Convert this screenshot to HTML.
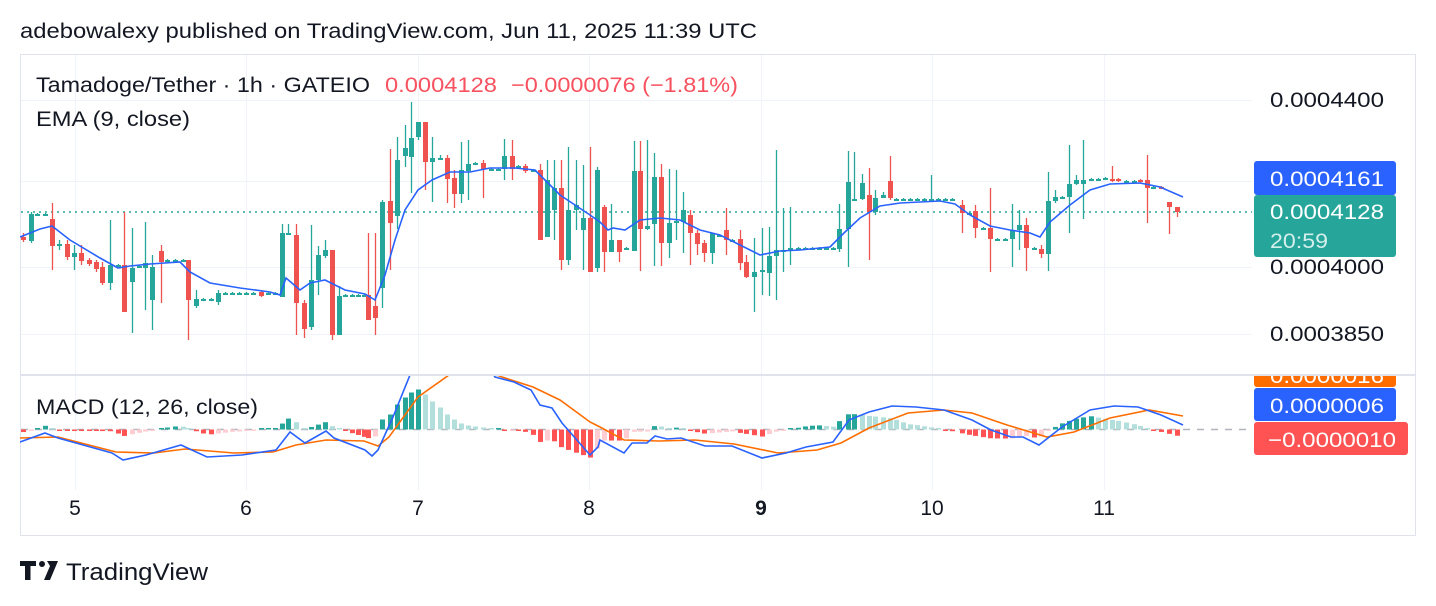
<!DOCTYPE html>
<html><head><meta charset="utf-8">
<style>
html,body{margin:0;padding:0;background:#fff;width:1436px;height:606px;overflow:hidden}
svg{display:block;font-family:"Liberation Sans",sans-serif}
</style></head><body>
<svg id="s" width="1436" height="606" xmlns="http://www.w3.org/2000/svg">
<rect width="1436" height="606" fill="#fff"/>
<text x="20" y="38" font-size="21" fill="#131722" textLength="737" lengthAdjust="spacingAndGlyphs">adebowalexy published on TradingView.com, Jun 11, 2025 11:39 UTC</text>
<rect x="20.5" y="54.5" width="1395" height="481" fill="none" stroke="#e0e3eb"/>
<g stroke="#f0f3fa" stroke-width="1">
<line x1="21" y1="100.5" x2="1252" y2="100.5"/>
<line x1="21" y1="181.5" x2="1252" y2="181.5"/>
<line x1="21" y1="267.5" x2="1252" y2="267.5"/>
<line x1="21" y1="334.5" x2="1252" y2="334.5"/>
<line x1="75.5" y1="55" x2="75.5" y2="490"/>
<line x1="246.5" y1="55" x2="246.5" y2="490"/>
<line x1="418.5" y1="55" x2="418.5" y2="490"/>
<line x1="589.5" y1="55" x2="589.5" y2="490"/>
<line x1="761.5" y1="55" x2="761.5" y2="490"/>
<line x1="932.5" y1="55" x2="932.5" y2="490"/>
<line x1="1104.5" y1="55" x2="1104.5" y2="490"/>
</g>
<line x1="20" y1="375" x2="1416" y2="375" stroke="#e0e3eb" stroke-width="2"/>
<line x1="21" y1="212" x2="1252" y2="212" stroke="#26a69a" stroke-width="1.5" stroke-dasharray="2,4"/>
<line x1="21" y1="429.5" x2="1252" y2="429.5" stroke="#b2b5be" stroke-width="1.5" stroke-dasharray="7,7"/>
<defs><clipPath id="cp"><rect x="20" y="376" width="1235" height="120"/></clipPath>
<clipPath id="pp"><rect x="20" y="55" width="1235" height="319"/></clipPath></defs>
<g id="candles" clip-path="url(#pp)"></g>
<g id="macd" clip-path="url(#cp)"></g>
<text x="36" y="92" font-size="21" fill="#131722" textLength="334" lengthAdjust="spacingAndGlyphs">Tamadoge/Tether · 1h · GATEIO</text>
<text x="385" y="92" font-size="21" fill="#f7525f" textLength="112" lengthAdjust="spacingAndGlyphs">0.0004128</text>
<text x="511" y="92" font-size="21" fill="#f7525f" textLength="227" lengthAdjust="spacingAndGlyphs">−0.0000076 (−1.81%)</text>
<text x="36" y="126" font-size="21" fill="#131722" textLength="154" lengthAdjust="spacingAndGlyphs">EMA (9, close)</text>
<text x="36" y="414" font-size="21" fill="#131722" textLength="222" lengthAdjust="spacingAndGlyphs">MACD (12, 26, close)</text>
<g font-size="21" fill="#131722">
<text x="1270" y="107" textLength="114" lengthAdjust="spacingAndGlyphs">0.0004400</text>
<text x="1270" y="274" textLength="114" lengthAdjust="spacingAndGlyphs">0.0004000</text>
<text x="1270" y="341" textLength="114" lengthAdjust="spacingAndGlyphs">0.0003850</text>
</g>
<rect x="1254" y="161" width="142" height="34" rx="3" fill="#2962ff"/>
<text x="1270" y="186" font-size="21" fill="#fff" textLength="114" lengthAdjust="spacingAndGlyphs">0.0004161</text>
<rect x="1254" y="195" width="142" height="62" rx="3" fill="#26a69a"/>
<text x="1270" y="219" font-size="21" fill="#fff" textLength="114" lengthAdjust="spacingAndGlyphs">0.0004128</text>
<text x="1270" y="248" font-size="21" fill="#d4eeeb" textLength="58" lengthAdjust="spacingAndGlyphs">20:59</text>
<rect x="1254" y="370" width="142" height="17" rx="3" fill="#ff6d00"/>
<text x="1270" y="383" font-size="21" fill="#fff" textLength="114" lengthAdjust="spacingAndGlyphs">0.0000016</text>
<rect x="1254" y="388" width="142" height="33" rx="3" fill="#2962ff"/>
<text x="1270" y="413" font-size="21" fill="#fff" textLength="114" lengthAdjust="spacingAndGlyphs">0.0000006</text>
<rect x="1254" y="422" width="154" height="33" rx="3" fill="#ff5252"/>
<text x="1268" y="447" font-size="21" fill="#fff" textLength="128" lengthAdjust="spacingAndGlyphs">−0.0000010</text>
<rect x="1250" y="360" width="165" height="14" fill="#fff"/>
<line x1="20" y1="375" x2="1416" y2="375" stroke="#e0e3eb" stroke-width="2"/>
<g font-size="21" fill="#131722" text-anchor="middle">
<text x="75" y="515">5</text><text x="246" y="515">6</text><text x="418" y="515">7</text>
<text x="589" y="515">8</text><text x="761" y="515" font-weight="bold">9</text>
<text x="932" y="515">10</text><text x="1104" y="515">11</text>
</g>
<g fill="#131722">
<path d="M20 561h16v5h-5.5v14h-5.5v-14h-5z"/>
<circle cx="42" cy="564" r="3"/>
<path d="M47 561h11l-8 19h-6l6-14z"/>
</g>
<text x="66" y="580" font-size="24" fill="#131722" textLength="142" lengthAdjust="spacingAndGlyphs">TradingView</text>
</svg>
<script>
var NS="http://www.w3.org/2000/svg";
function el(p,t,a){var e=document.createElementNS(NS,t);for(var k in a)e.setAttribute(k,a[k]);p.appendChild(e);return e;}
var C=[[23,237,240,233,242],[31,241,214,212,243],[37,214,214,213,215],[45,214,214,213,215],[52,219,246,203,270],[59,244,244,240,250],[67,244,257,240,260],[74,257,253,245,270],[81,253,261,245,265],[89,260,264,258,266],[96,262,269,260,272],[102,267,283,262,285],[110,283,265,220,290],[118,265,265,264,266],[124,265,312,212,312],[132,282,268,228,333],[139,266,266,265,267],[145,268,263,222,310],[152,300,267,255,330],[161,251,262,245,303],[167,260,260,259,261],[175,260,260,259,261],[183,260,260,259,261],[188,260,300,260,340],[196,306,299,290,308],[203,299,299,298,300],[211,299,299,298,300],[218,302,293,290,305],[225,293,293,292,294],[232,293,293,292,294],[239,293,293,292,294],[246,293,293,292,294],[253,293,293,292,294],[261,292,296,290,297],[268,293,293,292,294],[275,294,293,292,295],[282,297,233,224,297],[288,233,233,224,235],[296,235,303,224,335],[304,303,329,300,338],[311,327,280,225,330],[318,280,255,246,295],[325,256,250,240,258],[332,250,335,250,340],[339,335,296,286,335],[345,295,295,294,296],[352,295,295,294,296],[358,295,295,294,296],[364,295,295,294,296],[368,295,320,233,320],[375,306,318,233,335],[382,288,202,200,308],[390,201,223,149,270],[397,216,160,137,229],[405,156,148,125,167],[411,157,138,102,193],[418,137,122,122,140],[425,122,162,122,190],[432,162,158,137,202],[440,158,158,155,160],[447,158,179,155,203],[454,178,194,170,208],[461,194,170,142,203],[468,171,164,140,200],[475,163,163,162,164],[483,163,169,160,198],[491,169,169,168,170],[498,169,169,168,170],[504,169,156,139,180],[512,156,169,140,180],[518,166,166,165,167],[525,166,171,164,173],[533,170,170,169,171],[540,170,240,164,240],[547,237,180,160,237],[554,210,188,160,240],[561,188,260,160,270],[568,260,210,147,265],[576,210,205,160,230],[583,230,218,165,270],[590,218,272,147,272],[597,268,170,167,272],[604,207,252,205,272],[611,252,240,204,252],[619,240,252,240,262],[626,248,248,247,249],[634,251,171,141,251],[640,171,229,141,271],[647,229,226,140,230],[654,224,177,153,266],[661,177,243,164,266],[669,243,223,169,258],[676,223,221,170,240],[683,222,210,192,253],[690,215,233,210,265],[697,233,244,230,255],[704,243,253,240,262],[712,253,233,238,264],[719,235,235,234,236],[726,230,240,208,255],[732,240,240,239,241],[740,239,263,230,270],[746,262,277,255,278],[754,277,272,238,312],[762,272,270,228,295],[769,273,256,227,296],[776,256,250,150,300],[783,250,250,208,272],[790,250,248,207,265],[798,248,248,247,249],[805,248,248,247,249],[812,248,248,247,249],[819,248,248,247,249],[826,248,248,247,249],[833,248,248,247,249],[839,249,229,204,252],[848,229,182,151,267],[854,199,199,152,200],[862,199,183,174,200],[869,195,212,168,260],[875,212,198,190,215],[883,198,195,192,198],[890,181,198,156,200],[896,199,199,198,200],[903,199,199,198,200],[910,199,199,198,200],[917,199,199,198,200],[924,199,199,198,200],[931,200,199,175,200],[938,199,199,198,200],[945,199,199,198,200],[952,199,199,198,200],[962,205,213,200,233],[969,213,213,212,214],[975,211,228,205,238],[983,228,228,227,229],[990,228,239,188,272],[997,239,239,238,240],[1005,239,239,238,240],[1012,239,230,204,267],[1019,230,225,210,250],[1026,225,248,218,271],[1034,248,248,247,249],[1041,249,254,245,258],[1048,254,201,172,271],[1055,201,197,190,203],[1062,197,197,196,198],[1069,197,184,145,233],[1076,184,180,175,185],[1083,184,180,140,219],[1091,179,179,178,180],[1098,179,179,178,180],[1105,178,178,177,179],[1112,179,181,166,182],[1118,179,181,178,182],[1126,181,181,180,182],[1134,181,181,180,182],[1140,180,182,179,183],[1147,180,188,155,223],[1153,187,187,186,188],[1161,187,188,186,189],[1169,202,207,202,234],[1177,207,212,207,217]];
var g=document.getElementById('candles');
C.forEach(function(c){var col=c[2]>c[1]?'#ef5350':'#26a69a';
el(g,'line',{x1:c[0]+0.5,x2:c[0]+0.5,y1:c[3],y2:c[4],stroke:col,'stroke-width':1.3});
var t=Math.min(c[1],c[2]),h=Math.max(2,Math.abs(c[2]-c[1]));
el(g,'rect',{x:c[0]-2,y:t,width:5,height:h,fill:col});});
var E=[[20,237],[40,229],[52,226],[70,240],[100,258],[118,268],[130,266],[150,264],[180,262],[190,272],[210,283],[240,288],[270,292],[280,295],[286,278],[300,290],[310,283],[325,280],[345,290],[365,294],[375,300],[385,275],[395,240],[405,210],[418,190],[432,180],[450,172],[470,172],[490,168],[515,168],[535,170],[545,180],[560,195],[575,205],[590,215],[600,222],[608,230],[613,228],[625,230],[640,220],[660,218],[680,220],[700,230],[720,235],[740,245],[760,255],[780,251],[800,250],[830,247],[845,232],[860,218],[880,206],[900,203],[940,201],[955,204],[970,215],[990,226],[1010,230],[1030,233],[1040,237],[1050,222],[1070,205],[1090,190],[1110,184],[1140,183],[1160,187],[1183,197]];
el(g,'polyline',{points:E.map(function(p){return p.join(',')}).join(' '),fill:'none',stroke:'#2962ff','stroke-width':1.6});
var B=[[20,442],[45,433],[58,438],[112,453],[123,460],[146,455],[181,445],[207,457],[242,455],[276,450],[290,432],[305,443],[326,431],[334,438],[365,450],[372,456],[378,450],[393,417],[410,375],[420,350],[480,355],[495,377],[514,382],[531,390],[540,405],[552,408],[562,423],[590,455],[598,447],[600,440],[624,453],[632,443],[647,443],[655,436],[667,439],[681,438],[705,446],[732,446],[762,458],[786,453],[806,447],[833,442],[849,420],[869,412],[892,406],[916,407],[944,410],[972,420],[991,430],[1011,437],[1023,437],[1039,445],[1062,427],[1090,410],[1114,406],[1138,407],[1161,415],[1183,425]];
var O=[[20,438],[58,437],[116,452],[154,453],[185,449],[234,453],[273,452],[296,445],[326,440],[364,441],[378,446],[389,437],[418,397],[449,375],[470,365],[502,377],[533,387],[560,400],[590,422],[600,427],[624,440],[659,441],[695,440],[734,444],[778,453],[817,450],[841,443],[869,428],[908,413],[944,410],[972,413],[1007,425],[1047,437],[1074,432],[1110,418],[1149,410],[1183,416]];
function interp(A,x){for(var i=1;i<A.length;i++){if(x<=A[i][0]){var a=A[i-1],b=A[i];return a[1]+(b[1]-a[1])*(x-a[0])/(b[0]-a[0]);}}return A[A.length-1][1];}
var m=document.getElementById('macd');
var ov={382:10,390:15,397:25,405:32,411:37,418:40,425:35,432:28,440:22,447:15,454:10,461:6,468:4,475:3,483:2,491:1,498:1};
var prev=0;
C.forEach(function(c){var x=c[0];var h=ov[x]!==undefined?ov[x]:(interp(O,x)-interp(B,x))*0.85;
var col;if(h>=0)col=h>=prev?'#26a69a':'#b2dfdb';else col=h<=prev?'#ff5252':'#ffcdd2';prev=h;
var hh=Math.max(1.5,Math.abs(h));var y=h>=0?429.5-hh:429.5;
el(m,'rect',{x:x-2,y:y,width:5,height:hh,fill:col});});
el(m,'polyline',{points:O.map(function(p){return p.join(',')}).join(' '),fill:'none',stroke:'#ff6d00','stroke-width':1.6});
el(m,'polyline',{points:B.map(function(p){return p.join(',')}).join(' '),fill:'none',stroke:'#2962ff','stroke-width':1.6});
</script>
</body></html>
